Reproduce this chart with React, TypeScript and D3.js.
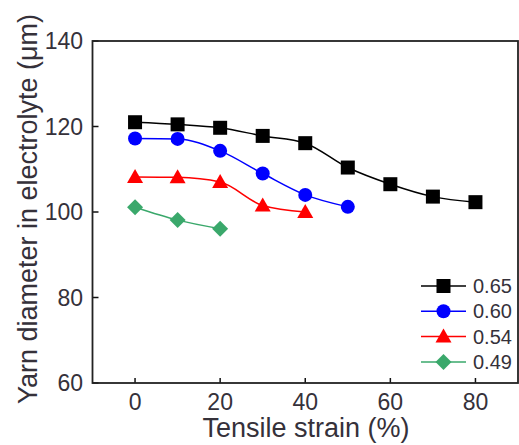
import React from "react";
import * as d3 from "d3";

const strain65 = [0, 10, 20, 30, 40, 50, 60, 70, 80];
const diam65 = [121, 120.5, 119.7, 117.8, 116.1, 110.4, 106.5, 103.6, 102.3];
const strain60 = [0, 10, 20, 30, 40, 50];
const diam60 = [117.2, 117.1, 114.3, 109.0, 104.0, 101.2];
const strain54 = [0, 10, 20, 30, 40];
const diam54 = [108.2, 108.1, 107.0, 101.5, 100.0];
const strain49 = [0, 10, 20];
const diam49 = [101.1, 98.1, 96.1];

const xTicks = [0, 20, 40, 60, 80];
const yTicks = [60, 80, 100, 120, 140];
const seriesNames = ["0.65", "0.60", "0.54", "0.49"];

const W = 519;
const H = 445;
const left = 92.5;
const right = 518;
const top = 41;
const bottom = 383;

const x = d3.scaleLinear().domain([-10, 90]).range([left, right]);
const y = d3.scaleLinear().domain([60, 140]).range([bottom, top]);

type Shape = "square" | "circle" | "triangle" | "diamond";

const series = [
  { name: seriesNames[0], xs: strain65, ys: diam65, color: "#000000", shape: "square" as Shape },
  { name: seriesNames[1], xs: strain60, ys: diam60, color: "#0000ff", shape: "circle" as Shape },
  { name: seriesNames[2], xs: strain54, ys: diam54, color: "#ff0000", shape: "triangle" as Shape },
  { name: seriesNames[3], xs: strain49, ys: diam49, color: "#3aa86b", shape: "diamond" as Shape },
];

function Marker({ cx, cy, shape, color }: { cx: number; cy: number; shape: Shape; color: string }) {
  if (shape === "square") {
    return <rect x={cx - 7} y={cy - 7} width={14} height={14} fill={color} />;
  }
  if (shape === "circle") {
    return <circle cx={cx} cy={cy} r={7} fill={color} />;
  }
  if (shape === "triangle") {
    const p = `${cx},${cy - 8} ${cx + 8},${cy + 6} ${cx - 8},${cy + 6}`;
    return <polygon points={p} fill={color} />;
  }
  const p = `${cx},${cy - 8} ${cx + 8},${cy} ${cx},${cy + 8} ${cx - 8},${cy}`;
  return <polygon points={p} fill={color} />;
}

const line = d3
  .line<[number, number]>()
  .x((d) => x(d[0]))
  .y((d) => y(d[1]))
  .curve(d3.curveMonotoneX);

const textColor = "#35313a";
const font = "'Liberation Sans', Arial, sans-serif";

export default function App() {
  const legendX1 = 421;
  const legendX2 = 466;
  const legendY0 = 286;
  const legendStep = 25.3;
  return (
    <svg
      width={W}
      height={H}
      style={{ position: "absolute", left: 0, top: 0, background: "#fff" }}
      fontFamily={font}
    >
      {/* y ticks (inward) and labels */}
      {yTicks.map((t) => (
        <g key={"y" + t}>
          <line x1={left} x2={left + 6} y1={y(t)} y2={y(t)} stroke="#111" strokeWidth={1.5} />
          <text x={83} y={y(t) + 8} textAnchor="end" fontSize={23} fill={textColor}>
            {t}
          </text>
        </g>
      ))}
      {/* x ticks (inward) and labels */}
      {xTicks.map((t) => (
        <g key={"x" + t}>
          <line x1={x(t)} x2={x(t)} y1={bottom} y2={bottom - 5} stroke="#111" strokeWidth={1.5} />
          <text x={x(t)} y={410} textAnchor="middle" fontSize={23} fill={textColor}>
            {t}
          </text>
        </g>
      ))}

      {/* data series */}
      {series.map((s) => {
        const pts = s.xs.map((v, i) => [v, s.ys[i]] as [number, number]);
        return (
          <g key={s.name}>
            <path d={line(pts) || ""} fill="none" stroke={s.color} strokeWidth={1.5} />
            {pts.map((p, i) => (
              <Marker key={i} cx={x(p[0])} cy={y(p[1])} shape={s.shape} color={s.color} />
            ))}
          </g>
        );
      })}

      {/* legend */}
      {series.map((s, i) => {
        const ly = legendY0 + i * legendStep;
        return (
          <g key={"lg" + s.name}>
            <line x1={legendX1} x2={legendX2} y1={ly} y2={ly} stroke={s.color} strokeWidth={1.5} />
            <Marker cx={(legendX1 + legendX2) / 2} cy={ly} shape={s.shape} color={s.color} />
            <text x={473} y={ly + 7} fontSize={20} fill={textColor}>
              {s.name}
            </text>
          </g>
        );
      })}

      {/* frame */}
      <rect x={left} y={top} width={right - left} height={bottom - top} fill="none" stroke="#222" strokeWidth={1.8} />

      {/* axis titles */}
      <text x={306} y={437} textAnchor="middle" fontSize={27} fill={textColor}>
        Tensile strain (%)
      </text>
      <text
        transform={`translate(37, ${209}) rotate(-90)`}
        textAnchor="middle"
        fontSize={27}
        fill={textColor}
      >
        Yarn diameter in electrolyte (μm)
      </text>
    </svg>
  );
}
